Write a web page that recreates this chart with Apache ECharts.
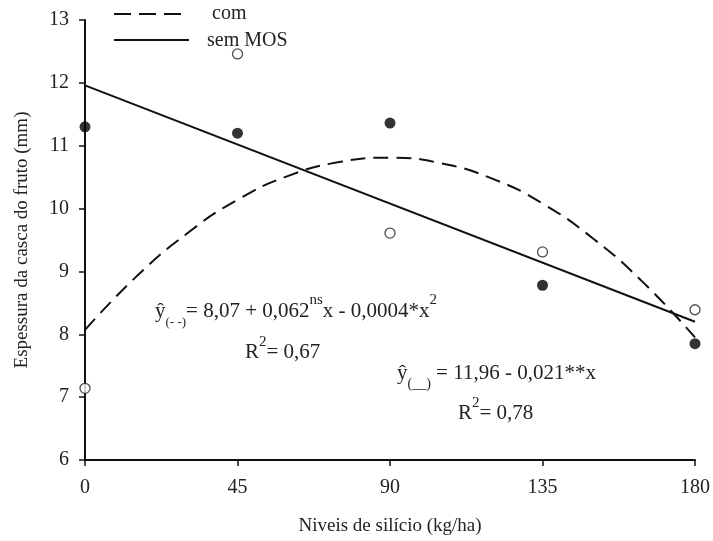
<!DOCTYPE html>
<html>
<head>
<meta charset="utf-8">
<script src="https://cdn.jsdelivr.net/npm/echarts@6/dist/echarts.min.js"></script>
<style>html,body{margin:0;padding:0;background:#fff}#c{width:713px;height:541px}</style>
</head>
<body>
<div id="c"></div>
<script>
// Data
const doses = [0, 45, 90, 135, 180];
const comMOS = [7.14, 12.46, 9.61, 9.31, 8.39];      // open circles
const semMOS = [11.30, 11.20, 11.36, 8.78, 7.85];    // filled circles
const curveX = [0, 15, 30, 45, 60, 75, 90, 105, 120, 135, 150, 165, 180];
const curveCom = [8.07, 8.91, 9.60, 10.14, 10.52, 10.74, 10.81, 10.72, 10.48, 10.08, 9.52, 8.81, 7.95];
const lineX = [0, 180];
const lineSem = [11.96, 8.20];
const xTicks = [0, 45, 90, 135, 180];
const yTicks = [6, 7, 8, 9, 10, 11, 12, 13];

const FONT = 'Liberation Serif';
const chart = echarts.init(document.getElementById('c'), null, {renderer: 'canvas'});
const pairs = (xs, ys) => xs.map((x, i) => [x, ys[i]]);

chart.setOption({
  animation: false,
  backgroundColor: '#fff',
  grid: {left: 85, right: 17, top: 20, bottom: 81},
  xAxis: {
    type: 'value', min: xTicks[0], max: xTicks[xTicks.length - 1], interval: xTicks[1] - xTicks[0],
    name: 'Niveis de silício (kg/ha)', nameLocation: 'middle', nameGap: 57,
    nameTextStyle: {fontFamily: FONT, fontSize: 19, color: '#222'},
    axisLine: {show: true, onZero: false, lineStyle: {color: '#111', width: 2}},
    axisTick: {show: true, length: 6, lineStyle: {color: '#111', width: 1.5}},
    axisLabel: {fontFamily: FONT, fontSize: 20, color: '#222', margin: 18},
    splitLine: {show: false}
  },
  yAxis: {
    type: 'value', min: yTicks[0], max: yTicks[yTicks.length - 1], interval: 1,
    name: 'Espessura da casca do fruto (mm)', nameLocation: 'middle', nameGap: 53,
    nameTextStyle: {fontFamily: FONT, fontSize: 19, color: '#222'},
    axisLine: {show: true, onZero: false, lineStyle: {color: '#111', width: 2}},
    axisTick: {show: true, length: 6, lineStyle: {color: '#111', width: 1.5}},
    axisLabel: {fontFamily: FONT, fontSize: 20, color: '#222', margin: 16},
    splitLine: {show: false}
  },
  series: [
    {type: 'line', data: pairs(curveX, curveCom), smooth: true, symbol: 'none',
     lineStyle: {color: '#111', width: 2, type: [15, 8]}, z: 2},
    {type: 'line', data: pairs(lineX, lineSem), symbol: 'none',
     lineStyle: {color: '#111', width: 2}, z: 2},
    {type: 'scatter', data: pairs(doses, comMOS), symbol: 'circle', symbolSize: 10,
     itemStyle: {color: '#fff', borderColor: '#222', borderWidth: 1.3}, z: 3},
    {type: 'scatter', data: pairs(doses, semMOS), symbol: 'circle', symbolSize: 11,
     itemStyle: {color: '#000'}, z: 3}
  ],
  graphic: [
    {type: 'line', shape: {x1: 114, y1: 14, x2: 182, y2: 14}, style: {stroke: '#111', lineWidth: 2, lineDash: [17, 8]}},
    {type: 'text', x: 212, y: 14, style: {text: 'com', fontFamily: FONT, fontSize: 20, fill: '#222', verticalAlign: 'middle'}},
    {type: 'line', shape: {x1: 114, y1: 40, x2: 189, y2: 40}, style: {stroke: '#111', lineWidth: 2}},
    {type: 'text', x: 207, y: 41, style: {text: 'sem MOS', fontFamily: FONT, fontSize: 20, fill: '#222', verticalAlign: 'middle'}},
    {type: 'text', x: 155, y: 293, style: {
      text: '{y|ŷ}{sub|(- -)}{t|= 8,07 + 0,062}{sup|ns}{t|x - 0,0004*x}{sup|2}',
      fontFamily: FONT, fill: '#222',
      rich: {
        y: {fontFamily: FONT, fontSize: 21, lineHeight: 36, verticalAlign: 'middle'},
        t: {fontFamily: FONT, fontSize: 21, lineHeight: 36, verticalAlign: 'middle'},
        sub: {fontFamily: FONT, fontSize: 13, lineHeight: 36, verticalAlign: 'bottom'},
        sup: {fontFamily: FONT, fontSize: 15, lineHeight: 36, verticalAlign: 'top'}
      }
    }},
    {type: 'text', x: 245, y: 335, style: {
      text: '{t|R}{sup|2}{t|= 0,67}', fill: '#222',
      rich: {
        t: {fontFamily: FONT, fontSize: 21, lineHeight: 34, verticalAlign: 'middle'},
        sup: {fontFamily: FONT, fontSize: 15, lineHeight: 34, verticalAlign: 'top'}
      }
    }},
    {type: 'text', x: 397, y: 355, style: {
      text: '{y|ŷ}{sub|(__)}{t| = 11,96 - 0,021**x}', fill: '#222',
      rich: {
        y: {fontFamily: FONT, fontSize: 21, lineHeight: 36, verticalAlign: 'middle'},
        t: {fontFamily: FONT, fontSize: 21, lineHeight: 36, verticalAlign: 'middle'},
        sub: {fontFamily: FONT, fontSize: 14, lineHeight: 36, verticalAlign: 'bottom'}
      }
    }},
    {type: 'text', x: 458, y: 396, style: {
      text: '{t|R}{sup|2}{t|= 0,78}', fill: '#222',
      rich: {
        t: {fontFamily: FONT, fontSize: 21, lineHeight: 34, verticalAlign: 'middle'},
        sup: {fontFamily: FONT, fontSize: 15, lineHeight: 34, verticalAlign: 'top'}
      }
    }}
  ]
});
</script>
</body>
</html>
